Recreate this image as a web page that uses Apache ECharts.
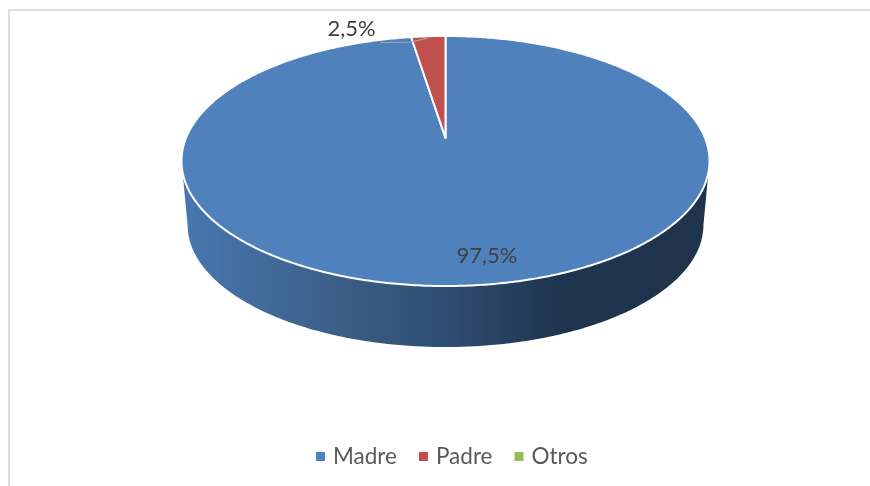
<!DOCTYPE html>
<html>
<head>
<meta charset="utf-8">
<style>html,body{margin:0;padding:0;background:#fff}#c{width:870px;height:486px}</style>
<script src="https://cdn.jsdelivr.net/npm/echarts@6/dist/echarts.min.js"></script>
</head>
<body>
<div id="c"></div>
<script>
var categories = ['Madre', 'Padre', 'Otros'];
var values = [97.5, 2.5, 0];
var colors = ['#4f81bd', '#c0504d', '#9bbb59'];

var total = values.reduce(function (a, b) { return a + b; }, 0);
var FONT = 'Lato, Carlito, sans-serif';
var TEXT = '#404040';
// Perspective disc layout
var CX = 445.5, APEX_Y = 138, K = 0.184, A = 259.5, B = 120.8;
var BASE_SCALE = 0.977, BASE_APEX_Y = 202.4;
var NEAR_START = Math.acos(-K), NEAR_END = 2 * Math.PI - NEAR_START;

function project(theta, scale, apexY) {
  var u = Math.sin(theta), v = Math.cos(theta), w = 1 + K * v;
  return [CX + scale * A * u / w, apexY - scale * B * v / w];
}
function arc(from, to, scale, apexY) {
  var pts = [], n = Math.max(2, Math.ceil(Math.abs(to - from) / 0.01));
  for (var i = 0; i <= n; i++) pts.push(project(from + (to - from) * i / n, scale, apexY));
  return pts;
}
function startFraction(idx) {
  var s = 0;
  for (var i = 0; i < idx; i++) s += values[i];
  return s / total;
}
function pctLabel(v) { return v.toFixed(1).replace('.', ',') + '%'; }

var labelPlacement = {
  0: { x: 487, y: 256 },
  1: { x: 351.5, y: 29 }
};
var leaderLines = {
  1: [[380, 42.5], [412, 42], [428, 38]]
};
var sideFill = new echarts.graphic.LinearGradient(0, 0, 1, 0, [
  { offset: 0, color: '#4878b0' },
  { offset: 0.36, color: '#38597f' },
  { offset: 0.5, color: '#2f4d73' },
  { offset: 0.72, color: '#1f344e' },
  { offset: 1, color: '#1f334d' }
]);

function makeRender(idx) {
  return function (params, api) {
    var v = values[idx];
    if (!v) return { type: 'group', children: [] };
    var a0 = startFraction(idx) * 2 * Math.PI;
    var a1 = a0 + v / total * 2 * Math.PI;
    var children = [];
    var s0 = Math.max(a0, NEAR_START), s1 = Math.min(a1, NEAR_END);
    if (s1 > s0) {
      var top = arc(s0, s1, 1, APEX_Y);
      var bottom = arc(s0, s1, BASE_SCALE, BASE_APEX_Y).reverse();
      children.push({
        type: 'polygon',
        shape: { points: top.concat(bottom) },
        style: { fill: sideFill }
      });
    }
    var face = [[CX, APEX_Y]].concat(arc(a0, a1, 1, APEX_Y));
    children.push({
      type: 'polygon',
      shape: { points: face },
      style: { fill: api.visual('color'), stroke: '#ffffff', lineWidth: 2, lineJoin: 'round' }
    });
    return { type: 'group', children: children };
  };
}

function makeLabelRender(idx) {
  return function () {
    var children = [];
    if (leaderLines[idx]) {
      children.push({
        type: 'polyline',
        shape: { points: leaderLines[idx] },
        style: { fill: null, stroke: '#a6a6a6', lineWidth: 1.2 }
      });
    }
    if (values[idx]) {
      children.push({
        type: 'text',
        style: {
          x: labelPlacement[idx].x, y: labelPlacement[idx].y,
          text: pctLabel(values[idx]), fill: TEXT, font: '22px ' + FONT,
          align: 'center', verticalAlign: 'middle'
        }
      });
    }
    return { type: 'group', children: children };
  };
}

var series = categories.map(function (name, i) {
  return {
    type: 'custom', name: name, coordinateSystem: 'none', silent: true, animation: false,
    itemStyle: { color: colors[i] }, renderItem: makeRender(i), data: [[values[i]]], z: 2
  };
});
// Data labels sit above every slice
categories.forEach(function (name, i) {
  series.push({
    type: 'custom', coordinateSystem: 'none', silent: true, animation: false,
    renderItem: makeLabelRender(i), data: [[values[i]]], z: 5
  });
});

var chart = echarts.init(document.getElementById('c'), null, { renderer: 'canvas' });
chart.setOption({
  animation: false,
  backgroundColor: '#ffffff',
  graphic: [{
    type: 'rect', silent: true, z: 0,
    shape: { x: 9, y: 10, width: 1000, height: 600 },
    style: { fill: null, stroke: '#dedede', lineWidth: 2 }
  }],
  legend: {
    data: categories, left: 316, top: 445, icon: 'rect', itemWidth: 9, itemHeight: 9,
    itemGap: 22, padding: 0, selectedMode: false,
    textStyle: { color: '#595959', fontFamily: FONT, fontSize: 22.5, padding: [0, 0, 0, 3] }
  },
  series: series
});
</script>
</body>
</html>
